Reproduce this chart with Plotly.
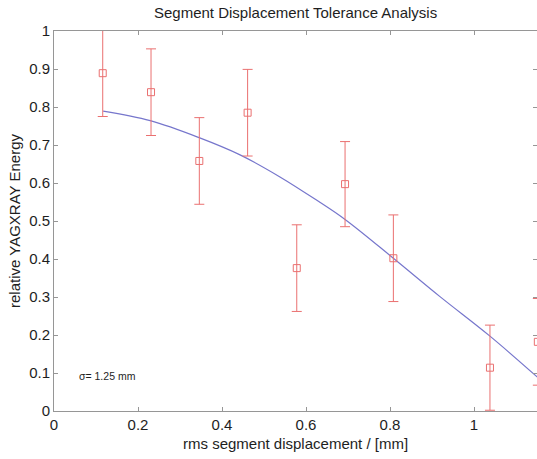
import plotly.graph_objects as go

# measured data points (rms displacement [mm], relative energy, error)
disp_mm = [0.116, 0.231, 0.346, 0.461, 0.578, 0.693, 0.808, 1.038, 1.152]
energy = [0.889, 0.839, 0.658, 0.785, 0.376, 0.597, 0.402, 0.114, 0.182]
energy_err = [0.114, 0.114, 0.114, 0.114, 0.114, 0.112, 0.114, 0.112, 0.114]

# fitted curve
fit_x = [0.117, 0.229, 0.344, 0.443, 0.538, 0.625, 0.693, 0.808, 0.919, 1.038, 1.152]
fit_y = [0.789, 0.764, 0.720, 0.674, 0.616, 0.555, 0.504, 0.402, 0.301, 0.197, 0.088]

x_ticks = [0, 0.2, 0.4, 0.6, 0.8, 1.0]
x_tick_labels = ["0", "0.2", "0.4", "0.6", "0.8", "1"]
y_ticks = [0, 0.1, 0.2, 0.3, 0.4, 0.5, 0.6, 0.7, 0.8, 0.9, 1.0]
y_tick_labels = ["0", "0.1", "0.2", "0.3", "0.4", "0.5", "0.6", "0.7", "0.8", "0.9", "1"]

FONT = "Liberation Sans, Arial, Helvetica, sans-serif"
RED = "rgb(234,112,112)"
BLUE = "rgb(118,118,204)"
AXIS = "rgb(150,150,150)"
TEXT = "rgb(30,30,30)"

fig = go.Figure()
fig.add_trace(go.Scatter(
    x=fit_x, y=fit_y, mode="lines",
    line=dict(color=BLUE, width=1.2, shape="spline", smoothing=1.0),
    showlegend=False, hoverinfo="skip",
))
fig.add_trace(go.Scatter(
    x=disp_mm, y=energy, mode="markers",
    marker=dict(symbol="square-open", size=7, color=RED, line=dict(width=1, color=RED)),
    error_y=dict(type="data", array=energy_err, visible=True, color=RED, thickness=1, width=5),
    showlegend=False,
))
# invisible trace to host the right-hand tick axis
fig.add_trace(go.Scatter(x=[0], y=[0], yaxis="y2", mode="markers",
                         marker=dict(opacity=0), showlegend=False, hoverinfo="skip"))

fig.update_layout(
    width=537, height=459,
    margin=dict(l=54, r=0, t=31, b=48),
    paper_bgcolor="white", plot_bgcolor="white",
    font=dict(family=FONT, size=15, color=TEXT),
    xaxis=dict(
        range=[0, 1.15], tickvals=x_ticks, ticktext=x_tick_labels,
        ticks="inside", ticklen=4, tickcolor=AXIS, showline=True, linecolor=AXIS,
        linewidth=1, mirror="ticks", showgrid=False, zeroline=False,
        tickfont=dict(size=15, color=TEXT),
    ),
    yaxis=dict(
        range=[0, 1], tickvals=y_ticks, ticktext=y_tick_labels,
        ticks="inside", ticklen=4, tickcolor=AXIS, showline=True, linecolor=AXIS,
        linewidth=1, mirror=False, showgrid=False, zeroline=False,
        tickfont=dict(size=15, color=TEXT),
    ),
    yaxis2=dict(
        range=[0, 1], tickvals=y_ticks, overlaying="y", side="right",
        ticks="inside", ticklen=4, tickcolor=AXIS, showline=False,
        showticklabels=False, showgrid=False, zeroline=False,
    ),
    annotations=[
        dict(text="Segment Displacement Tolerance Analysis", xref="paper", yref="paper",
             x=0.5, y=1, yanchor="bottom", yshift=8, showarrow=False,
             font=dict(size=15, color=TEXT)),
        dict(text="rms segment displacement / [mm]", xref="paper", yref="paper",
             x=0.5, y=0, yanchor="middle", yshift=-32, showarrow=False,
             font=dict(size=15, color=TEXT)),
        dict(text="relative YAGXRAY Energy", xref="paper", yref="paper",
             x=0, y=0.5, xanchor="center", xshift=-40, textangle=-90, showarrow=False,
             font=dict(size=15, color=TEXT)),
        dict(text="σ= 1.25 mm", xref="x", yref="y", x=0.055, y=0.092,
             xanchor="left", yanchor="middle", showarrow=False,
             font=dict(size=10.5, color=TEXT)),
    ],
)

fig.write_html(
    "out.html",
    config={"displayModeBar": False},
    post_script="document.body.style.margin='0';document.body.style.overflow='hidden';",
)
